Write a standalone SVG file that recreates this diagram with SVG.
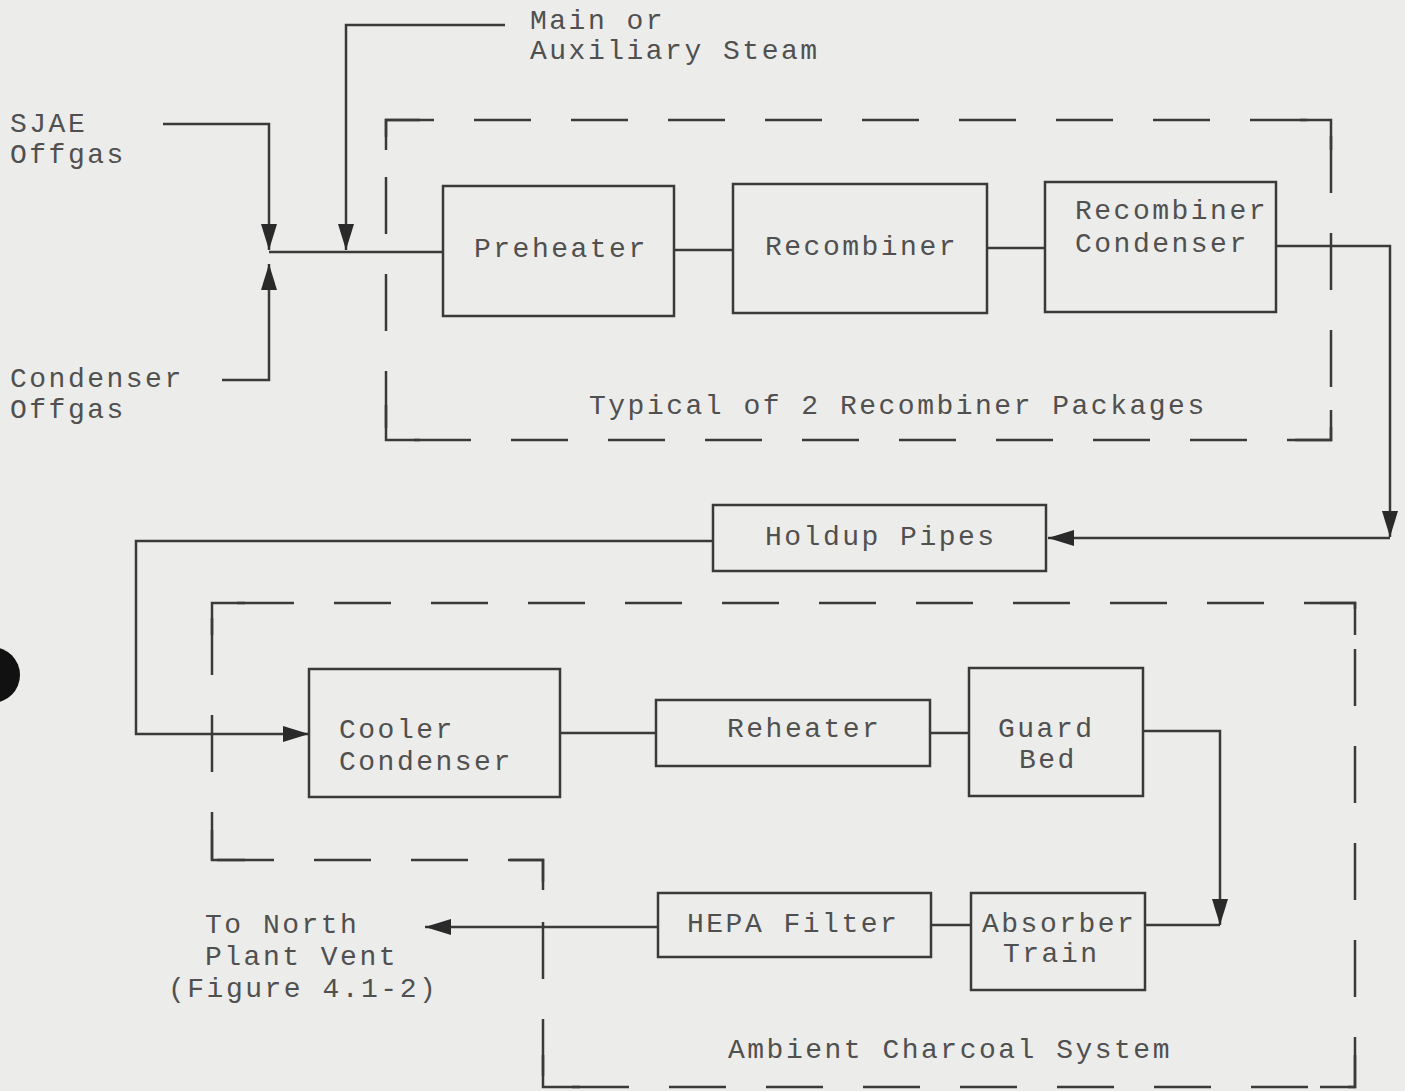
<svg xmlns="http://www.w3.org/2000/svg" width="1405" height="1091" viewBox="0 0 1405 1091">
<defs>
<style>
.bg{fill:#ececea}
.box{fill:none;stroke:#3a3a3a;stroke-width:2.5}
.ln{fill:none;stroke:#3a3a3a;stroke-width:2.5}
.dash{fill:none;stroke:#3a3a3a;stroke-width:2.5;stroke-dasharray:57 40;stroke-dashoffset:9}
text{font-family:"Liberation Mono","DejaVu Sans Mono",monospace;font-size:28px;fill:#505050;letter-spacing:2.5px}
</style>
<marker id="arr" viewBox="0 0 26 16" refX="26" refY="8" markerWidth="26" markerHeight="16" markerUnits="userSpaceOnUse" orient="auto">
<path d="M0,0 L26,8 L0,16 Z" fill="#2a2a2a"/>
</marker>
</defs>
<rect class="bg" x="0" y="0" width="1405" height="1091"/>
<circle cx="-8" cy="675" r="28" fill="#111"/>

<g id="boundary-recombiner">
<path class="dash" d="M386,120 L1331,120 L1331,440 L386,440 Z"/>
<path class="ln" d="M386,150 L386,120 L420,120 M1300,120 L1331,120 L1331,150 M1331,410 L1331,440 L1295,440 M420,440 L386,440 L386,405"/>
<text x="589" y="414">Typical of 2 Recombiner Packages</text>
</g>
<g id="boundary-charcoal">
<path class="dash" d="M212,860 L212,603 L1355,603 L1355,1087 L543,1087 L543,860 Z"/>
<path class="ln" d="M212,635 L212,603 L245,603 M1320,603 L1355,603 L1355,635 M1355,1055 L1355,1087 L1320,1087 M580,1087 L543,1087 L543,1055 M510,860 L543,860 L543,890 M245,860 L212,860 L212,830"/>
<text x="728" y="1058">Ambient Charcoal System</text>
</g>

<g id="sjae">
<text x="10" y="132">SJAE</text>
<text x="10" y="163">Offgas</text>
</g>
<g id="condenser-offgas">
<text x="10" y="387">Condenser</text>
<text x="10" y="418">Offgas</text>
</g>
<g id="steam">
<text x="530" y="29">Main or</text>
<text x="530" y="59">Auxiliary Steam</text>
</g>
<g id="preheater">
<rect class="box" x="443" y="186" width="231" height="130"/>
<text x="474" y="257">Preheater</text>
</g>
<g id="recombiner">
<rect class="box" x="733" y="184" width="254" height="129"/>
<text x="765" y="255">Recombiner</text>
</g>
<g id="recombiner-condenser">
<rect class="box" x="1045" y="182" width="231" height="130"/>
<text x="1075" y="219">Recombiner</text>
<text x="1075" y="252">Condenser</text>
</g>
<g id="holdup">
<rect class="box" x="713" y="505" width="333" height="66"/>
<text x="765" y="545">Holdup Pipes</text>
</g>
<g id="cooler">
<rect class="box" x="309" y="669" width="251" height="128"/>
<text x="339" y="738">Cooler</text>
<text x="339" y="770">Condenser</text>
</g>
<g id="reheater">
<rect class="box" x="656" y="700" width="274" height="66"/>
<text x="727" y="737">Reheater</text>
</g>
<g id="guard">
<rect class="box" x="969" y="668" width="174" height="128"/>
<text x="998" y="737">Guard</text>
<text x="1019" y="768">Bed</text>
</g>
<g id="hepa">
<rect class="box" x="658" y="893" width="273" height="64"/>
<text x="687" y="932">HEPA Filter</text>
</g>
<g id="absorber">
<rect class="box" x="971" y="893" width="174" height="97"/>
<text x="982" y="932">Absorber</text>
<text x="1003" y="962">Train</text>
</g>
<g id="vent">
<text x="205" y="933">To North</text>
<text x="205" y="965">Plant Vent</text>
<text x="168" y="997">(Figure 4.1-2)</text>
</g>

<g id="connectors">
<path class="ln" d="M163,124 L269,124 L269,250" marker-end="url(#arr)"/>
<path class="ln" d="M222,380 L269,380 L269,264" marker-end="url(#arr)"/>
<path class="ln" d="M505,25 L346,25 L346,250" marker-end="url(#arr)"/>
<path class="ln" d="M269,252 L443,252"/>
<path class="ln" d="M674,250 L733,250"/>
<path class="ln" d="M987,248 L1045,248"/>
<path class="ln" d="M1276,246 L1390,246 L1390,537" marker-end="url(#arr)"/>
<path class="ln" d="M1390,538 L1048,538" marker-end="url(#arr)"/>
<path class="ln" d="M713,541 L136,541 L136,734 L309,734" marker-end="url(#arr)"/>
<path class="ln" d="M560,733 L656,733"/>
<path class="ln" d="M930,733 L969,733"/>
<path class="ln" d="M1143,731 L1220,731 L1220,925" marker-end="url(#arr)"/>
<path class="ln" d="M1220,925 L1145,925"/>
<path class="ln" d="M931,925 L971,925"/>
<path class="ln" d="M658,927 L425,927" marker-end="url(#arr)"/>
</g>
</svg>
